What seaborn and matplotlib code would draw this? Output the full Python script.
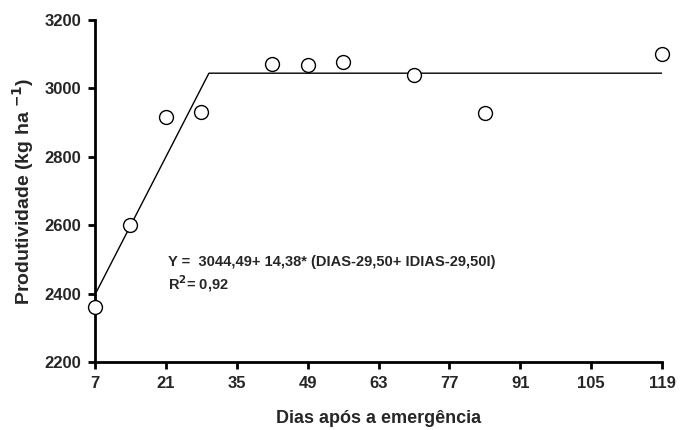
import matplotlib
matplotlib.use("Agg")
import matplotlib.pyplot as plt
import seaborn as sns
import pandas as pd

# Observed data
dias = [7, 14, 21, 28, 42, 49, 56, 70, 84, 119]
produtividade = [2360, 2602, 2915, 2930, 3072, 3068, 3076, 3040, 2929, 3100]

# Fitted linear-plateau line
fit_x = [7, 29.5, 119]
fit_y = [2397, 3044.49, 3044.49]

x_ticks = [7, 21, 35, 49, 63, 77, 91, 105, 119]
y_ticks = [2200, 2400, 2600, 2800, 3000, 3200]

sns.set_theme(style="ticks")
plt.rcParams['font.family'] = ['Liberation Sans', 'DejaVu Sans']

fig = plt.figure(figsize=(6.87, 4.30), dpi=100)
ax = fig.add_axes([0.1383, 0.1581, 0.8254, 0.7954])

df_obs = pd.DataFrame({"x": dias, "y": produtividade})
df_fit = pd.DataFrame({"x": fit_x, "y": fit_y})

sns.lineplot(data=df_fit, x="x", y="y", ax=ax, color="black", linewidth=1.0,
             zorder=2)
sns.scatterplot(data=df_obs, x="x", y="y", ax=ax, s=100, facecolor="white",
                edgecolor="black", linewidth=1.0, zorder=3, clip_on=False)

ax.set_xlim(7, 119)
ax.set_ylim(2200, 3200)
ax.set_xticks(x_ticks)
ax.set_yticks(y_ticks)
ax.set_xticklabels([str(t) for t in x_ticks], fontsize=12, fontweight="bold")
ax.set_yticklabels([str(t) for t in y_ticks], fontsize=12, fontweight="bold")
ax.tick_params(axis="both", direction="out", length=5, width=2, color="black")
ax.tick_params(axis="x", pad=5)
ax.tick_params(axis="y", pad=5)

for side in ["top", "right"]:
    ax.spines[side].set_visible(False)
for side in ["left", "bottom"]:
    ax.spines[side].set_linewidth(2)
    ax.spines[side].set_color("black")

ax.set_xlabel("Dias após a emergência", fontsize=13, fontweight="bold",
              labelpad=14)
ax.set_ylabel("Produtividade (kg ha $^{\\mathbf{-1}}$)", fontsize=14,
              fontweight="bold", labelpad=6)

ax.text(21.5, 2492, "Y =  3044,49+ 14,38* (DIAS-29,50+ IDIAS-29,50I)",
        fontsize=10.5, fontweight="bold", va="center", ha="left")
ax.text(21.5, 2428, "R$^{\\mathbf{2}}$= 0,92", fontsize=10.5,
        fontweight="bold", va="center", ha="left")

fig.savefig("out.png", dpi=100)
